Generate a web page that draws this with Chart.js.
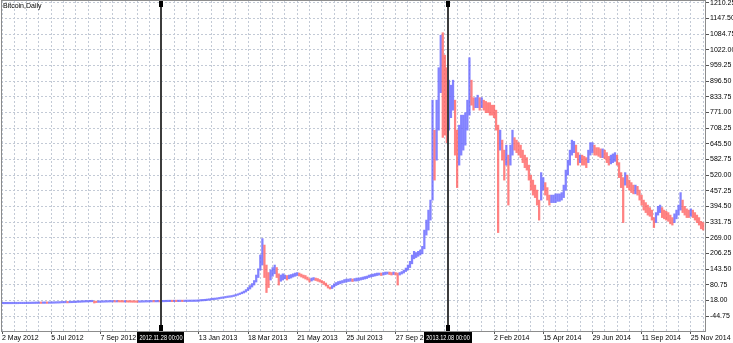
<!DOCTYPE html>
<html>
<head>
<meta charset="utf-8">
<script src="https://cdn.jsdelivr.net/npm/chart.js@4.4.1/dist/chart.umd.min.js"></script>
<style>
  html, body { margin: 0; padding: 0; background: #fff; }
</style>
</head>
<body>
<canvas id="chart" width="733" height="343"></canvas>
<script>
const symbolTitle = 'Bitcoin,Daily';

// one date label every 24 bars, '' where the marker box sits on top of it
const dateLabels = ['2 May 2012', '5 Jul 2012', '7 Sep 2012', '', '13 Jan 2013', '18 Mar 2013',
  '21 May 2013', '25 Jul 2013', '27 Sep 2013', '', '2 Feb 2014', '15 Apr 2014',
  '29 Jun 2014', '11 Sep 2014', '25 Nov 2014'];
const labelEvery = 24;
const gridEvery = 6;

const yTicks = [-44.75, 18.00, 80.75, 143.50, 206.25, 269.00, 331.75, 394.50, 457.25, 520.00,
  582.75, 645.50, 708.25, 771.00, 833.75, 896.50, 959.25, 1022.00, 1084.75, 1147.50, 1210.25];

const markerBars = [77.5, 217.5];
const markerLabels = ['2012.11.28 00:00', '2013.12.08 00:00'];

const lows = [
  4.9, 4.9, 5.0, 5.0, 5.0, 5.1, 5.1, 5.1, 5.2, 5.3, 5.3, 5.4,
  5.5, 5.6, 5.7, 5.9, 6.1, 6.3, 6.4, 6.3, 6.5, 6.6, 6.5, 6.7,
  6.8, 7.0, 7.3, 7.6, 7.8, 8.4, 8.6, 8.8, 8.5, 8.9, 9.2, 9.6,
  10.0, 10.6, 10.8, 11.2, 11.6, 12.0, 12.2, 12.6, 13.0, 8.0, 9.8, 10.4,
  10.8, 11.0, 11.3, 11.6, 11.9, 12.1, 12.3, 12.0, 12.2, 12.1, 11.9, 11.7,
  11.8, 11.6, 11.4, 11.2, 11.0, 10.9, 10.8, 11.0, 11.3, 11.5, 11.8, 12.0,
  12.2, 12.4, 12.4, 12.5, 12.6, 12.5, 12.7, 12.9, 13.1, 13.3, 13.4, 13.3,
  13.5, 13.4, 13.5, 13.6, 13.5, 13.6, 13.8, 13.9, 14.0, 14.1, 14.2, 14.4,
  15, 16, 16.5, 17, 18, 19, 20, 21.5, 22, 23,
  24.5, 26, 27, 28.5, 30, 31, 32, 34, 36, 39,
  42, 45, 48, 52, 58, 64, 72, 80, 92, 110,
  140, 160, 110, 50, 70, 100, 115, 125, 110, 80,
  95, 100, 105, 100, 105, 108, 112, 115, 118, 116,
  112, 108, 104, 100, 92, 96, 100, 98, 95, 92,
  88, 82, 76, 68, 64, 66, 72, 78, 82, 85,
  88, 90, 92, 94, 95, 94, 96, 96, 98, 100,
  102, 104, 106, 110, 112, 114, 116, 118, 120, 118,
  120, 122, 124, 122, 120, 122, 120, 80, 120, 124,
  128, 134, 140, 150, 165, 185, 190, 195, 200, 205,
  225, 280, 300, 340, 420, 500, 580, 700, 850, 671,
  680, 650, 700, 750, 780, 600, 470, 560, 600, 620,
  640, 700, 760, 800, 780, 790, 790, 780, 790, 780,
  770, 770, 760, 760, 750, 700, 290, 620, 580, 500,
  560, 400, 560, 600, 620, 610, 600, 590, 570, 550,
  540, 500, 460, 440, 430, 400, 340, 420, 460, 440,
  420, 400, 410, 410, 410, 415, 415, 420, 430, 460,
  520, 560, 600, 610, 590, 560, 570, 560, 560, 550,
  570, 600, 610, 600, 600, 595, 590, 590, 585, 570,
  560, 565, 570, 575, 560, 510, 470, 330, 480, 470,
  460, 450, 445, 445, 440, 420, 400, 380, 370, 360,
  355, 340, 310, 330, 360, 370, 350, 345, 340, 335,
  325, 320, 330, 345, 360, 380, 370, 360, 350, 350,
  355, 350, 340, 330, 320, 305, 300
];

const highs = [
  5.3, 5.3, 5.4, 5.4, 5.5, 5.5, 5.6, 5.6, 5.7, 5.7, 5.8, 5.9,
  6.0, 6.1, 6.3, 6.5, 6.7, 6.9, 6.9, 6.9, 7.0, 7.1, 7.1, 7.3,
  7.4, 7.7, 8.0, 8.3, 8.6, 9.1, 9.4, 9.5, 9.3, 9.7, 10.1, 10.6,
  11.0, 11.6, 11.9, 12.3, 12.7, 13.1, 13.4, 13.8, 14.4, 15.4, 10.9, 11.4,
  11.7, 12.0, 12.3, 12.6, 12.9, 13.1, 13.3, 13.0, 13.1, 13.0, 12.8, 12.6,
  12.6, 12.4, 12.2, 12.0, 11.8, 11.7, 11.7, 11.9, 12.1, 12.4, 12.6, 12.9,
  13.1, 13.3, 13.2, 13.3, 13.4, 13.4, 13.6, 13.8, 14.0, 14.2, 14.3, 14.2,
  14.3, 14.3, 14.4, 14.5, 14.4, 14.6, 14.8, 14.9, 15.0, 15.2, 15.3, 15.6,
  16.5, 17.5, 18.5, 19.5, 20.5, 21.5, 23, 24, 25, 26.5,
  28, 29.5, 31, 32, 34, 35, 37, 39.5, 42, 45,
  48, 52, 56, 62, 70, 78, 86, 98, 120, 145,
  200, 266, 240, 160, 130, 140, 150, 160, 150, 125,
  120, 125, 120, 118, 120, 122, 125, 128, 130, 128,
  124, 120, 118, 112, 105, 108, 110, 108, 106, 102,
  98, 94, 88, 80, 72, 78, 85, 90, 94, 96,
  98, 102, 104, 104, 106, 104, 106, 108, 108, 110,
  112, 114, 116, 120, 122, 124, 126, 128, 128, 128,
  130, 132, 132, 132, 130, 132, 130, 128, 130, 134,
  140, 148, 160, 175, 200, 215, 210, 215, 220, 235,
  300, 340, 380, 420, 820, 700, 820, 950, 1080, 1090,
  1000, 950, 900, 880, 900, 820, 700, 720, 760, 760,
  770, 820, 990, 900, 830, 830, 840, 830, 830, 820,
  815, 810, 810, 800, 800, 780, 720, 700, 660, 620,
  640, 600, 640, 700, 670, 660, 650, 640, 620, 600,
  590, 560, 520, 500, 480, 460, 420, 530, 510, 490,
  470, 440, 440, 440, 445, 445, 445, 450, 480, 540,
  580, 620, 660, 655, 640, 610, 600, 600, 595, 590,
  620, 650, 650, 640, 630, 630, 625, 625, 620, 610,
  595, 600, 605, 610, 600, 570, 530, 510, 530, 520,
  500, 490, 480, 480, 475, 460, 440, 420, 410, 400,
  390, 380, 350, 370, 395, 400, 390, 380, 375, 370,
  360, 350, 365, 380, 400, 450, 420, 395, 385, 380,
  385, 380, 370, 360, 350, 335, 330
];

const upColor = 'rgba(100,100,255,0.8)';
const downColor = 'rgba(255,95,95,0.78)';
const fontFamily = "'Liberation Sans', Arial, sans-serif";
const fontSize = 7;

const bars = lows.map((lo, i) => ({ x: i, y: [lo, highs[i]] }));
const barColors = lows.map((lo, i) => {
  if (i === 0) return upColor;
  const mid = (lo + highs[i]) / 2;
  const prev = (lows[i - 1] + highs[i - 1]) / 2;
  return mid >= prev ? upColor : downColor;
});

const overlay = {
  id: 'overlay',
  afterDatasetsDraw(chart) {
    const ctx = chart.ctx;
    const a = chart.chartArea;
    const xs = chart.scales.x;
    ctx.save();

    ctx.strokeStyle = '#8c8c8c';
    ctx.lineWidth = 1;
    ctx.strokeRect(a.left + 0.5, a.top - 0.5, a.right - a.left - 1, a.bottom - a.top + 1);

    ctx.fillStyle = '#000';
    ctx.font = fontSize + 'px ' + fontFamily;
    ctx.textBaseline = 'top';
    ctx.fillText(symbolTitle, a.left + 2, a.top + 2);

    // squeeze the marker text a bit so the boxes are as narrow as the original
    const squeeze = 0.8;
    markerBars.forEach((b, k) => {
      const x = Math.round(xs.getPixelForValue(b));
      ctx.fillStyle = '#3c3c3c';
      ctx.fillRect(x - 1, a.top, 2, a.bottom - a.top);
      ctx.fillStyle = '#000';
      ctx.fillRect(x - 2, a.top, 4, 6);
      ctx.fillRect(x - 2, a.bottom - 6, 4, 6);

      const w = ctx.measureText(markerLabels[k]).width * squeeze + 4;
      ctx.fillRect(Math.round(x - w / 2), a.bottom + 1, Math.round(w), 11);
      ctx.save();
      ctx.translate(x, a.bottom + 7);
      ctx.scale(squeeze, 1);
      ctx.fillStyle = '#fff';
      ctx.textAlign = 'center';
      ctx.textBaseline = 'middle';
      ctx.fillText(markerLabels[k], 0, 0);
      ctx.restore();
    });
    ctx.restore();
  }
};

new Chart(document.getElementById('chart'), {
  type: 'bar',
  data: {
    datasets: [{
      data: bars,
      backgroundColor: barColors,
      barThickness: 1.6,
      minBarLength: 1.5
    }]
  },
  options: {
    responsive: false,
    animation: false,
    devicePixelRatio: 1,
    layout: { padding: { top: 1, left: 1, right: 0, bottom: 0 } },
    plugins: { legend: { display: false }, tooltip: { enabled: false } },
    scales: {
      x: {
        type: 'linear',
        offset: false,
        min: -0.5,
        max: 343.4,
        afterBuildTicks(axis) {
          const t = [];
          for (let i = 0; i <= 342; i += gridEvery) t.push({ value: i });
          axis.ticks = t;
        },
        afterFit(axis) {
          axis.height = 12;
          axis.paddingLeft = 0;
          axis.paddingRight = 0;
        },
        grid: {
          offset: false,
          color: '#c3cad6',
          drawTicks: true,
          tickLength: 3,
          tickBorderDash: [],
          tickColor: c => (c.tick && c.tick.value % labelEvery === 0 && dateLabels[c.tick.value / labelEvery]) ? '#555' : 'rgba(0,0,0,0)'
        },
        border: { display: false, dash: [2, 2] },
        ticks: {
          autoSkip: false,
          maxRotation: 0,
          minRotation: 0,
          align: 'start',
          padding: 0,
          color: '#000',
          font: { family: fontFamily, size: fontSize },
          callback: v => (v % labelEvery === 0 ? (dateLabels[v / labelEvery] || '') : '')
        }
      },
      y: {
        position: 'right',
        min: -104,
        max: 1217,
        afterBuildTicks(axis) {
          axis.ticks = yTicks.map(v => ({ value: v }));
        },
        afterFit(axis) {
          axis.width = 27;
          axis.paddingTop = 0;
          axis.paddingBottom = 0;
        },
        grid: {
          color: '#c3cad6',
          drawTicks: true,
          tickLength: 3,
          tickBorderDash: [],
          tickColor: '#555'
        },
        border: { display: false, dash: [2, 2] },
        ticks: {
          padding: 1,
          color: '#000',
          font: { family: fontFamily, size: fontSize },
          callback: v => Number(v).toFixed(2)
        }
      }
    }
  },
  plugins: [overlay]
});
</script>
</body>
</html>
